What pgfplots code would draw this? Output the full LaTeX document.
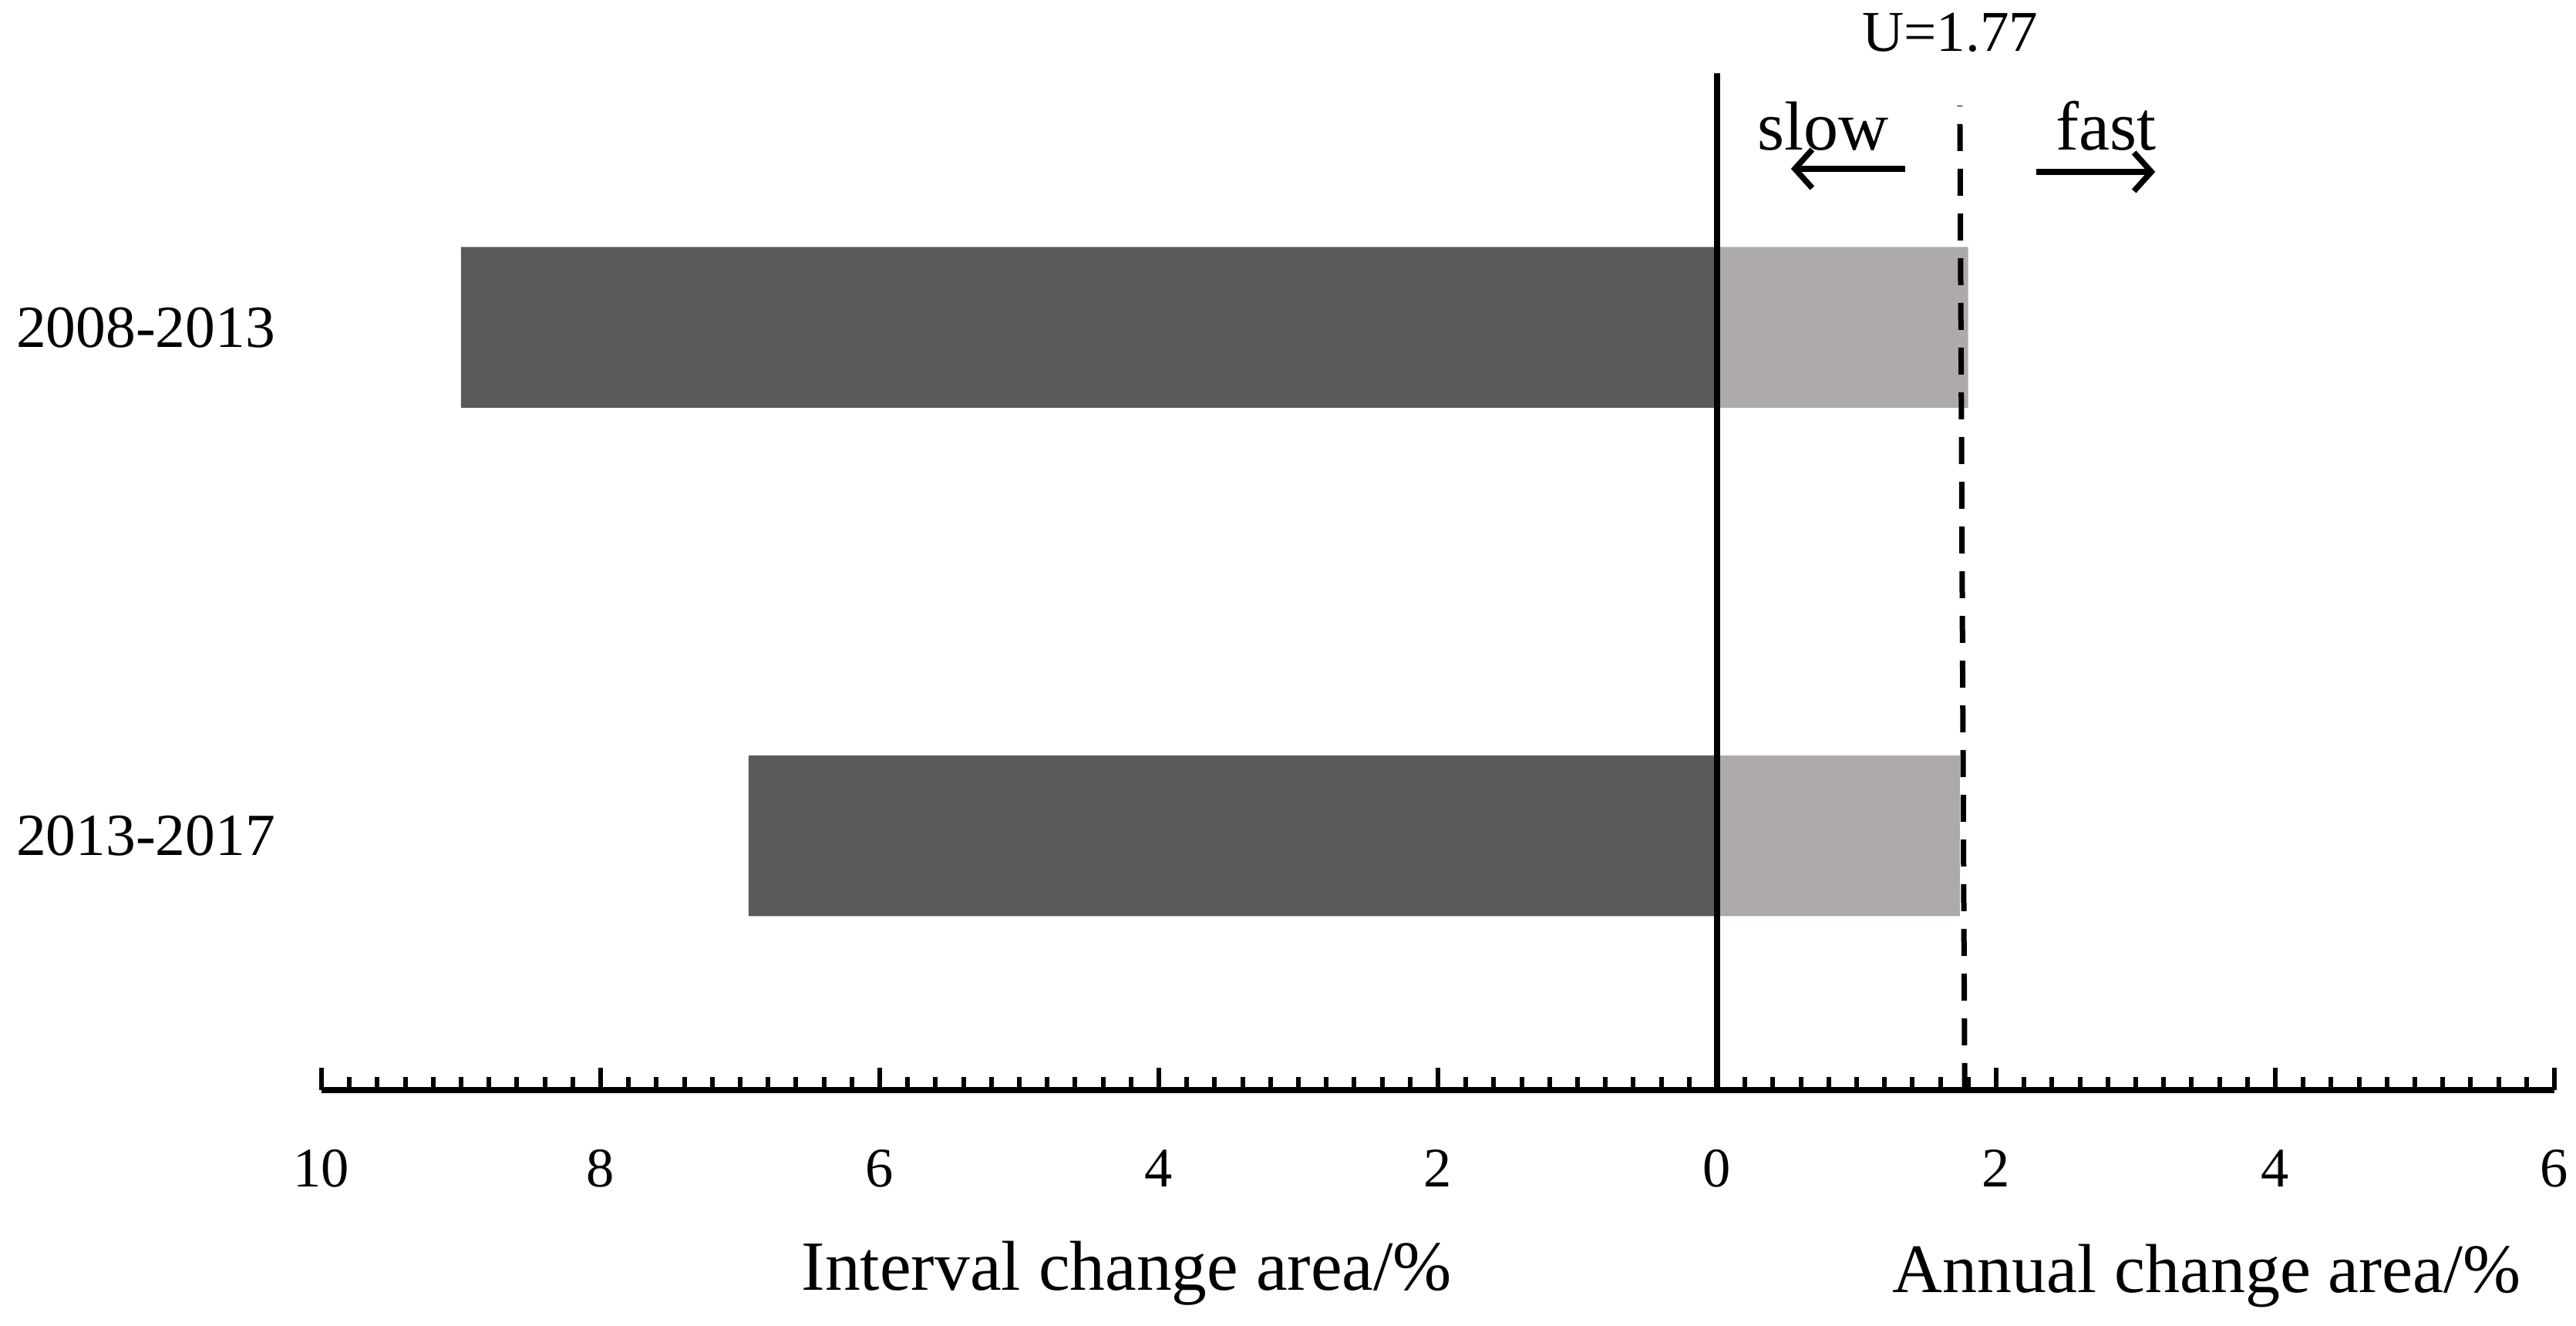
\documentclass[border=0pt]{standalone}
\usepackage{pgfplots}
\pgfplotsset{compat=1.18}
\usepackage{fontspec}
\setmainfont{Liberation Serif}
\usetikzlibrary{arrows.meta}
\definecolor{darkbar}{HTML}{5A5A5A}
\definecolor{lightbar}{HTML}{AEAAA9}
\begin{document}
\begin{tikzpicture}
\begin{axis}[
 scale only axis, width=579.2pt, height=263.8pt,
 xmin=-10, xmax=6, ymin=0.5, ymax=2.5,
 axis x line=bottom, axis y line=left,
 x axis line style={-, line width=1.6pt},
 y axis line style={draw=none},
 xtick={-10,-8,...,6},
 xticklabels={10,8,6,4,2,0,2,4,6},
 minor x tick num=9,
 tick align=inside,
 major tick length=5.8pt, minor tick length=3.3pt,
 xtick style={black, line width=1.2pt},
 ytick={1,2}, yticklabels={2013-2017,2008-2013},
 ytick style={draw=none},
 xticklabel style={font=\fontsize{14.5}{14.5}\selectfont, inner sep=0pt, yshift=-15.3pt},
 yticklabel style={font=\fontsize{15.5}{15.5}\selectfont, inner sep=0pt, xshift=-11.8pt},
 /pgf/number format/assume math mode=true,
 clip=false,
]
\addplot[xbar, bar width=0.316, bar shift=0pt, fill=darkbar, draw=none] coordinates {(-9.0,2) (-6.94,1)};
\addplot[xbar, bar width=0.316, bar shift=0pt, fill=lightbar, draw=none] coordinates {(1.80,2) (1.74,1)};
\addplot[black, line width=1.5pt] coordinates {(0,0.5) (0,2.5)};
\addplot[black, line width=1.4pt, dash pattern=on 7pt off 4.6pt] coordinates {(1.775,0.5) (1.74,2.436)};
\node[font=\fontsize{15}{15}\selectfont] at (axis cs:1.67,2.58) {U=1.77};
\node[font=\fontsize{18}{18}\selectfont] at (axis cs:0.76,2.396) {slow};
\node[font=\fontsize{18}{18}\selectfont] at (axis cs:2.79,2.396) {fast};
\draw[line width=1.5pt, -{Straight Barb[length=4.5pt,width=10pt]}] (axis cs:1.35,2.312) -- (axis cs:0.53,2.312);
\draw[line width=1.5pt, -{Straight Barb[length=4.5pt,width=10pt]}] (axis cs:2.29,2.306) -- (axis cs:3.14,2.306);
\node[font=\fontsize{18.3}{18.3}\selectfont] at (axis cs:-4.23,0.14) {Interval change area/\%};
\node[font=\fontsize{18}{18}\selectfont] at (axis cs:3.51,0.134) {Annual change area/\%};
\path (rel axis cs:-0.144,-0.232) rectangle (rel axis cs:1.0097,1.072);
\end{axis}
\end{tikzpicture}
\end{document}
